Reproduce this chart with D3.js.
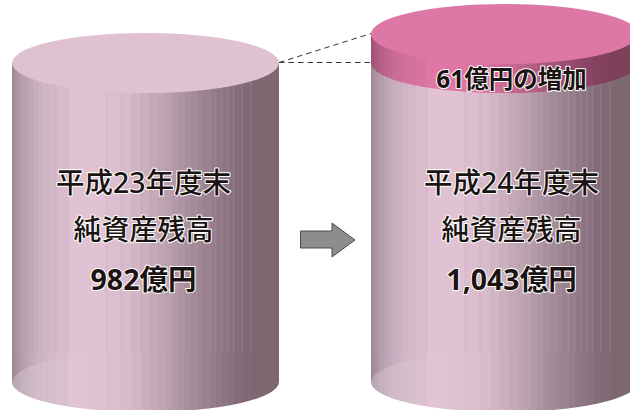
<!DOCTYPE html>
<html>
<head>
<meta charset="utf-8">
<style>
html, body { margin: 0; padding: 0; background: #fff; overflow: hidden; }
text { font-family: "Noto Sans", "Noto Sans CJK JP", sans-serif; fill: #1c1412; text-anchor: middle; paint-order: stroke; stroke: #fff; stroke-width: 2px; stroke-linejoin: round; }
</style>
<script src="https://cdn.jsdelivr.net/npm/d3@7"></script>
</head>
<body>
<script>
// data
var years = ["平成23年度末", "平成24年度末"];
var caption = "純資産残高";
var balances = [982, 1043];
var increase = 61;

// cylinder shading: left edge of each vertical strip (px from cylinder edge) and its colour
var stripEdges = [0, 3, 6, 9, 13, 17, 21, 25, 30, 36, 44, 56, 94, 109, 120, 129, 138, 146, 153, 160, 166, 172, 178, 185, 190, 198, 204, 210, 216, 222, 230, 239, 267];
var stripColors = ["#a08897", "#a9919f", "#b098a7", "#b79fae", "#bda4b4", "#c3aaba", "#c8afbf", "#ccb2c2", "#d0b5c5", "#d3b8c8", "#d8bccc", "#e0c2d2", "#dcbecf", "#d7bbca", "#d1b5c4", "#cbafbe", "#c5a9b8", "#bfa4b3", "#baa0ae", "#b49aa8", "#ae95a3", "#a98f9e", "#a48b99", "#9f8694", "#9a8290", "#957d8b", "#907986", "#8c7581", "#887180", "#846d79", "#806a75", "#7d6771"];

var lidColor = "#e0c1d1", pinkLid = "#dc77a6";
var rx = 133.5, ry = 30, baseY = 382;
var centers = [145.5, 504.5];

var svg = d3.select("body").append("svg").attr("width", 630).attr("height", 410);
var defs = svg.append("defs");

// top of each cylinder comes from its balance (the picture is not to scale from zero)
var topY = d3.scaleLinear().domain(balances).range([63, 34]);
var stripX = d3.scaleLinear().domain([0, 267]).range([-rx, rx]);

var fade = defs.append("linearGradient").attr("id", "fade");
fade.append("stop").attr("offset", "0").attr("stop-color", "#fff").attr("stop-opacity", 0.24);
fade.append("stop").attr("offset", "0.14").attr("stop-color", "#fff").attr("stop-opacity", 0.09);
fade.append("stop").attr("offset", "0.3").attr("stop-color", "#fff").attr("stop-opacity", 0);

function tint(color){
	var c = d3.rgb(color);
	return d3.rgb(c.r, c.g * 0.61, c.b * 0.79).formatHex();
}

function addClip(id, x, top, bottom){
	var d = "M" + (x - rx) + "," + top + "V" + bottom +
		"A" + rx + "," + ry + " 0 0 0 " + (x + rx) + "," + bottom +
		"V" + top + "Z";
	defs.append("clipPath").attr("id", id).append("path").attr("d", d);
}

function drawStrips(parent, x, top, bottom, colorFn, clipId, seam){
	var g = parent.append("g").attr("clip-path", "url(#" + clipId + ")");
	g.selectAll("rect").data(stripColors).join("rect")
		.attr("x", function(d, i){ return x + stripX(stripEdges[i]); })
		.attr("y", top)
		.attr("width", function(d, i){ return stripX(stripEdges[i + 1]) - stripX(stripEdges[i]) + 0.3; })
		.attr("height", bottom + ry - top)
		.attr("fill", colorFn);
	// thin seams between strips, they stop above the floor
	g.selectAll("line").data(stripEdges.slice(1, -1)).join("line")
		.attr("x1", function(d){ return x + stripX(d); })
		.attr("x2", function(d){ return x + stripX(d); })
		.attr("y1", top)
		.attr("y2", bottom - 30)
		.attr("stroke", seam)
		.attr("stroke-opacity", 0.45)
		.attr("stroke-width", 0.7);
}

function drawCylinder(i){
	var x = centers[i];
	var g = svg.append("g");
	var neck = topY(balances[0]);
	var clipId = "body" + i;
	addClip(clipId, x, neck, baseY);
	drawStrips(g, x, neck, baseY, function(d){ return d; }, clipId, "#b9a0b0");

	// lighter floor seen through the cylinder
	g.append("ellipse")
		.attr("cx", x).attr("cy", baseY)
		.attr("rx", rx).attr("ry", ry)
		.attr("fill", "url(#fade)");

	if(balances[i] > balances[0]){
		// the increase sits on top as a pink slice
		var top = topY(balances[i]);
		addClip("slice" + i, x, top, neck);
		drawStrips(g, x, top, neck, tint, "slice" + i, "#b9668f");
		g.append("ellipse")
			.attr("cx", x).attr("cy", top)
			.attr("rx", rx).attr("ry", ry)
			.attr("fill", pinkLid);
	}else{
		g.append("ellipse")
			.attr("cx", x).attr("cy", neck)
			.attr("rx", rx).attr("ry", ry)
			.attr("fill", lidColor);
	}
}

centers.forEach(function(c, i){ drawCylinder(i); });

// dashed guides from the left lid to the right cylinder
var guideY = topY.range();
var guideX = [centers[0] + rx, centers[1] - rx];
svg.selectAll("line.guide").data(guideY).join("line")
	.attr("class", "guide")
	.attr("x1", guideX[0])
	.attr("y1", guideY[0] - 0.5)
	.attr("x2", guideX[1])
	.attr("y2", function(d){ return d - 0.5; })
	.attr("stroke", "#333")
	.attr("stroke-width", 1)
	.attr("stroke-dasharray", "5.5,4");

// arrow between the cylinders
svg.append("path")
	.attr("d", d3.line()([[300.5, 231], [332, 231], [332, 223], [355, 240], [332, 257], [332, 248], [300.5, 248]]) + "Z")
	.attr("fill", "#8b8d8f")
	.attr("stroke", "#4a4a4a")
	.attr("stroke-width", 1);

// labels
var labelX = [143.5, 511.5];
var amount = d3.format(",");

function label(x, y, str, size, weight){
	svg.append("text")
		.attr("x", x).attr("y", y)
		.attr("font-size", size)
		.attr("font-weight", weight)
		.text(str);
}

years.forEach(function(year, i){
	label(labelX[i], 193, year, 28.5, 500);
	label(labelX[i], 240, caption, 28, 500);
	label(labelX[i], 290, amount(balances[i]) + "億円", 28.5, 700);
});
label(labelX[1], 88, increase + "億円の増加", 24.5, 700);
</script>
</body>
</html>
